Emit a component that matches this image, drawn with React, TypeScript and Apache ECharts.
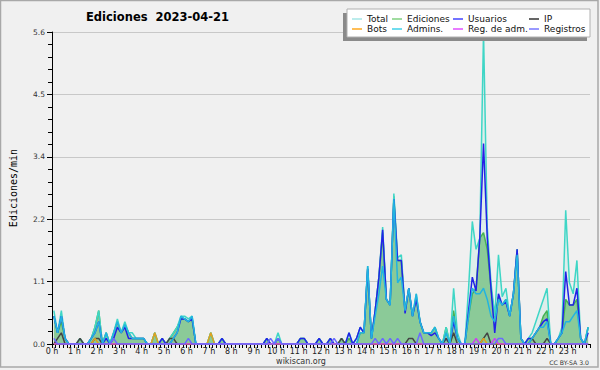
import React, { useEffect, useRef } from "react";
import * as echarts from "echarts";

// one value per 10-minute slot (6 per hour), edits/min
const total: number[] = [
  0.6, 0.2, 0.6, 0.1, 0, 0, // 0 h
  0, 0.1, 0, 0, 0.1, 0.3, // 1 h
  0.6, 0, 0.2, 0, 0.2, 0.45, // 2 h
  0.2, 0.4, 0.2, 0.2, 0.1, 0.1, // 3 h
  0.1, 0, 0, 0.2, 0, 0.1, // 4 h
  0, 0.1, 0.2, 0.3, 0.5, 0.5, // 5 h
  0.45, 0.5, 0, 0, 0, 0, // 6 h
  0.2, 0, 0, 0.1, 0, 0, // 7 h
  0, 0, 0, 0, 0, 0, // 8 h
  0, 0, 0, 0.1, 0, 0, // 9 h
  0.2, 0, 0, 0, 0, 0, // 10 h
  0.1, 0.1, 0, 0, 0, 0.1, // 11 h
  0, 0, 0.1, 0, 0, 0.1, // 12 h
  0, 0.2, 0, 0.1, 0.3, 0.2, // 13 h
  1.4, 0.1, 0.6, 1.2, 2.1, 0.8, // 14 h
  0.7, 2.7, 1.55, 1.6, 0.6, 1.0, // 15 h
  0.5, 0.9, 0.4, 0.2, 0.2, 0.2, // 16 h
  0.3, 0.1, 0, 0.3, 0, 1.0, // 17 h
  0.2, 0, 0, 1.0, 2.2, 1.7, // 18 h
  1.9, 5.6, 2.1, 1.1, 0.5, 1.6, // 19 h
  0.85, 1.0, 0.5, 0.9, 1.7, 0.1, // 20 h
  0, 0.1, 0.2, 0.4, 0.6, 0.8, // 21 h
  1.0, 0, 0, 0.1, 0.3, 2.4, // 22 h
  1.1, 0.9, 1.5, 0.1, 0, 0.3, // 23 h
];

const ediciones: number[] = [
  0.5, 0.2, 0.4, 0.1, 0, 0,
  0, 0.1, 0, 0, 0.1, 0.3,
  0.6, 0, 0.2, 0, 0.2, 0.4,
  0.2, 0.35, 0.2, 0.1, 0.1, 0.1,
  0.1, 0, 0, 0.2, 0, 0.1,
  0, 0.1, 0.2, 0.3, 0.45, 0.45,
  0.4, 0.45, 0, 0, 0, 0,
  0.2, 0, 0, 0.1, 0, 0,
  0, 0, 0, 0, 0, 0,
  0, 0, 0, 0.1, 0, 0,
  0.1, 0, 0, 0, 0, 0,
  0.1, 0.1, 0, 0, 0, 0.1,
  0, 0, 0.1, 0, 0, 0.1,
  0, 0.1, 0, 0, 0.2, 0.2,
  1.35, 0.1, 0.6, 1.2, 2.0, 0.8,
  0.7, 2.65, 1.5, 1.5, 0.6, 1.0,
  0.5, 0.85, 0.4, 0.2, 0.2, 0.2,
  0.3, 0.1, 0, 0.3, 0, 0.6,
  0.1, 0, 0, 0.5, 0.9, 1.0,
  1.9, 2.0, 1.7, 1.0, 0.5, 0.85,
  0.7, 0.8, 0.5, 0.9, 1.7, 0.1,
  0, 0.1, 0.1, 0.2, 0.3, 0.5,
  0.6, 0, 0, 0.1, 0.2, 0.8,
  0.7, 0.7, 0.8, 0.1, 0, 0.3,
];

const usuarios: number[] = [
  0.5, 0.2, 0.5, 0.1, 0, 0,
  0, 0, 0, 0, 0.1, 0.2,
  0.4, 0, 0.1, 0, 0.1, 0.3,
  0.2, 0.3, 0.1, 0.1, 0.1, 0.1,
  0.1, 0, 0, 0, 0, 0.1,
  0, 0, 0.1, 0.2, 0.45, 0.45,
  0.4, 0.45, 0, 0, 0, 0,
  0, 0, 0, 0.1, 0, 0,
  0, 0, 0, 0, 0, 0,
  0, 0, 0, 0.1, 0, 0,
  0.1, 0, 0, 0, 0, 0,
  0.1, 0.1, 0, 0, 0, 0.1,
  0, 0, 0.1, 0, 0, 0,
  0, 0.2, 0, 0.1, 0.3, 0.2,
  1.35, 0.1, 0.6, 1.2, 2.05, 0.8,
  0.7, 2.6, 1.5, 1.5, 0.55, 1.0,
  0.5, 0.8, 0.4, 0.2, 0.2, 0.15,
  0.2, 0.1, 0, 0.1, 0, 0.4,
  0.1, 0, 0, 0.6, 1.2, 0.95,
  1.9, 3.6, 1.9, 1.0, 0.2, 0.9,
  0.7, 0.75, 0.5, 0.9, 1.7, 0.1,
  0, 0.1, 0.1, 0.2, 0.3, 0.4,
  0.45, 0, 0, 0.1, 0.2, 1.3,
  0.7, 0.7, 1.0, 0.1, 0, 0.2,
];

const ip: number[] = [
  0, 0.1, 0.2, 0, 0, 0,
  0, 0.1, 0, 0, 0, 0.1,
  0.1, 0, 0, 0, 0, 0,
  0, 0, 0, 0, 0, 0,
  0, 0, 0, 0, 0, 0,
  0, 0.1, 0.1, 0, 0, 0,
  0, 0, 0, 0, 0, 0,
  0, 0, 0, 0, 0, 0,
  0, 0, 0, 0, 0, 0,
  0, 0, 0, 0, 0, 0,
  0, 0, 0, 0, 0, 0,
  0, 0, 0, 0, 0, 0,
  0, 0, 0, 0, 0, 0.1,
  0, 0, 0, 0, 0, 0,
  0, 0, 0, 0, 0, 0,
  0, 0, 0, 0, 0, 0.1,
  0.1, 0, 0, 0, 0, 0,
  0, 0, 0, 0.1, 0, 0.2,
  0, 0, 0, 0, 0, 0,
  0, 0.1, 0.2, 0, 0, 0,
  0, 0, 0, 0, 0, 0,
  0, 0, 0.1, 0, 0, 0,
  0.1, 0, 0, 0, 0, 0,
  0, 0, 0, 0, 0, 0,
];

const bots: number[] = [
  0, 0, 0, 0, 0, 0,
  0, 0, 0, 0, 0, 0.1,
  0, 0, 0, 0, 0, 0,
  0, 0, 0, 0, 0, 0,
  0, 0, 0, 0.2, 0, 0,
  0, 0, 0, 0, 0, 0,
  0, 0, 0, 0, 0, 0,
  0.2, 0, 0, 0, 0, 0,
  0, 0, 0, 0, 0, 0,
  0, 0, 0, 0, 0, 0,
  0, 0, 0, 0, 0, 0,
  0, 0, 0, 0, 0, 0,
  0, 0, 0, 0, 0, 0,
  0, 0, 0, 0, 0, 0,
  0, 0, 0, 0, 0, 0,
  0, 0, 0, 0, 0, 0,
  0, 0, 0, 0, 0, 0,
  0, 0, 0, 0, 0, 0,
  0, 0, 0, 0, 0, 0,
  0, 0.1, 0, 0, 0, 0,
  0, 0, 0, 0, 0, 0,
  0, 0, 0, 0, 0, 0,
  0, 0, 0, 0, 0, 0,
  0, 0, 0, 0, 0, 0,
];

const admins: number[] = [
  0.5, 0.2, 0.5, 0.1, 0, 0,
  0, 0, 0, 0, 0.1, 0.2,
  0.4, 0, 0.2, 0, 0.2, 0.4,
  0.2, 0.35, 0.2, 0.1, 0.1, 0.1,
  0.1, 0, 0, 0, 0, 0,
  0, 0, 0.1, 0.2, 0.5, 0.45,
  0.4, 0.5, 0, 0, 0, 0,
  0, 0, 0, 0, 0, 0,
  0, 0, 0, 0, 0, 0,
  0, 0, 0, 0, 0, 0,
  0.1, 0, 0, 0, 0, 0,
  0, 0, 0, 0, 0, 0,
  0, 0, 0, 0, 0, 0,
  0, 0, 0, 0, 0.2, 0.2,
  1.4, 0.1, 0.5, 0.9, 1.4, 0.8,
  0.7, 2.6, 1.1, 1.2, 0.6, 1.0,
  0.5, 0.9, 0.4, 0.2, 0.2, 0.2,
  0.3, 0.1, 0, 0.2, 0, 0.5,
  0.1, 0, 0, 0.5, 1.0, 0.9,
  0.9, 1.0, 0.8, 0.5, 0.4, 0.8,
  0.7, 0.8, 0.5, 0.9, 1.6, 0.1,
  0, 0, 0.1, 0.2, 0.3, 0.3,
  0.4, 0, 0, 0.1, 0.2, 0.4,
  0.4, 0.5, 0.6, 0.1, 0, 0.3,
];

const regAdm: number[] = [
  0, 0, 0, 0, 0, 0,
  0, 0, 0, 0, 0, 0,
  0, 0, 0, 0, 0, 0,
  0, 0, 0, 0, 0, 0,
  0, 0, 0, 0, 0, 0,
  0, 0, 0, 0, 0, 0,
  0, 0, 0, 0, 0, 0,
  0, 0, 0, 0, 0, 0,
  0, 0, 0, 0, 0, 0,
  0, 0, 0, 0, 0, 0,
  0, 0, 0, 0, 0, 0,
  0, 0, 0, 0, 0, 0,
  0, 0, 0, 0, 0, 0,
  0, 0, 0, 0, 0, 0,
  0, 0, 0, 0, 0, 0,
  0, 0, 0, 0, 0, 0,
  0, 0, 0, 0, 0, 0,
  0, 0, 0, 0, 0, 0,
  0, 0, 0, 0, 0, 0.1,
  0, 0, 0, 0, 0.1, 0,
  0, 0, 0, 0, 0, 0,
  0, 0, 0, 0, 0, 0,
  0, 0, 0, 0, 0, 0,
  0, 0, 0, 0, 0, 0,
];

const registros: number[] = [
  0.1, 0, 0, 0, 0, 0,
  0, 0, 0, 0, 0, 0,
  0, 0, 0, 0, 0.1, 0,
  0, 0, 0, 0, 0, 0,
  0, 0, 0, 0, 0, 0,
  0, 0, 0, 0, 0, 0,
  0.1, 0, 0, 0, 0, 0,
  0, 0, 0, 0, 0, 0,
  0, 0, 0, 0, 0, 0,
  0, 0, 0, 0, 0.1, 0,
  0.1, 0, 0, 0, 0, 0,
  0, 0, 0, 0, 0, 0,
  0, 0, 0, 0.1, 0, 0,
  0, 0, 0, 0, 0, 0,
  0, 0, 0.1, 0, 0.1, 0,
  0.1, 0, 0.1, 0, 0, 0,
  0, 0, 0.2, 0, 0, 0,
  0, 0, 0, 0, 0, 0,
  0, 0, 0, 0, 0, 0,
  0, 0, 0, 0, 0, 0.1,
  0.1, 0, 0, 0, 0, 0,
  0, 0, 0, 0, 0, 0,
  0, 0, 0, 0, 0, 0,
  0, 0, 0, 0, 0, 0,
];

const seriesNames = ["Total", "Ediciones", "Usuarios", "IP", "Bots", "Admins.", "Reg. de adm.", "Registros"];
const seriesColors = ["#3fd6c6", "#48b048", "#2222e6", "#444444", "#e0a020", "#22b4e0", "#cc44ee", "#6a6aff"];
const legendColors = ["#a6e6e6", "#80d080", "#4444ff", "#333333", "#ffa820", "#40d0e8", "#e050ff", "#7777ff"];
const yTicks = { min: 0, max: 5.6, interval: 1.12 };
const hoursInDay = 24;
const slotsPerHour = 6;

const FONT = "DejaVu Sans";

export default function App() {
  const ref = useRef<HTMLDivElement>(null);

  useEffect(() => {
    document.body.style.margin = "0";
    if (!ref.current) return;
    const chart = echarts.init(ref.current, undefined, { renderer: "svg" });

    const toData = (arr: number[]) => arr.map((v, i) => [i + 0.5, v]);
    const valuesByName: Record<string, number[]> = {
      Total: total,
      Ediciones: ediciones,
      Usuarios: usuarios,
      IP: ip,
      Bots: bots,
      "Admins.": admins,
      "Reg. de adm.": regAdm,
      Registros: registros,
    };
    // draw order: Ediciones area, then Total (translucent), then lines
    const drawOrder = ["Ediciones", "Total", "Usuarios", "IP", "Bots", "Admins.", "Reg. de adm.", "Registros"];
    const series: any[] = drawOrder.map((name, k) => {
      const idx = seriesNames.indexOf(name);
      const s: any = {
        name,
        type: "line",
        data: toData(valuesByName[name]),
        color: seriesColors[idx],
        showSymbol: false,
        symbol: "none",
        lineStyle: { width: 1.5, color: seriesColors[idx] },
        z: 2 + k * 0.01,
      };
      if (name === "Ediciones") s.areaStyle = { color: "#94c994", opacity: 1 };
      if (name === "Total") s.areaStyle = { color: "rgba(64,214,198,0.14)" };
      return s;
    });

    const legendPos = [
      [352, 14], [392, 14], [453, 14], [529, 14],
      [352, 24], [392, 24], [453, 24], [529, 24],
    ];
    const legendOrder = ["Total", "Ediciones", "Usuarios", "IP", "Bots", "Admins.", "Reg. de adm.", "Registros"];
    const legends = legendOrder.map((name, k) => ({
      show: true,
      data: [{ name, itemStyle: { color: legendColors[seriesNames.indexOf(name)] } }],
      left: legendPos[k][0],
      top: legendPos[k][1],
      padding: 0,
      icon: "rect",
      itemWidth: 10,
      itemHeight: 1.5,
      itemGap: 0,
      selectedMode: false,
      z: 6,
      textStyle: { fontFamily: FONT, fontSize: 9, color: "#111", lineHeight: 10 },
    }));

    chart.setOption({
      animation: false,
      backgroundColor: "#f0f0f0",
      title: {
        text: "Ediciones  2023-04-21",
        left: 86,
        top: 11,
        padding: 0,
        textStyle: { fontFamily: FONT, fontWeight: "bold", fontSize: 11.5, color: "#000" },
      },
      legend: legends,
      grid: { left: 46, right: 10, top: 32, bottom: 26, containLabel: false },
      xAxis: {
        type: "value",
        min: 0,
        max: hoursInDay * slotsPerHour,
        interval: slotsPerHour,
        axisLine: { show: true, onZero: false, lineStyle: { color: "#000", width: 1 } },
        axisTick: { show: true, length: 4, lineStyle: { color: "#000" } },
        minorTick: { show: true, splitNumber: 6, length: 4, lineStyle: { color: "#000" } },
        splitLine: { show: false },
        axisLabel: {
          fontFamily: FONT,
          fontSize: 8,
          color: "#222",
          margin: 3,
          showMaxLabel: false,
          formatter: (v: number) => (v >= hoursInDay * slotsPerHour ? "" : `${v / slotsPerHour} h`),
        },
      },
      yAxis: {
        type: "value",
        min: yTicks.min,
        max: yTicks.max,
        interval: yTicks.interval,
        name: "Ediciones/min",
        nameLocation: "middle",
        nameGap: 34,
        nameRotate: 90,
        nameTextStyle: { fontFamily: "DejaVu Sans Mono", fontSize: 10, color: "#000" },
        axisLine: { show: true, lineStyle: { color: "#000", width: 1 } },
        axisTick: { show: true, length: 5, lineStyle: { color: "#000" } },
        minorTick: { show: true, splitNumber: 5, length: 4, lineStyle: { color: "#000" } },
        splitLine: { show: true, lineStyle: { color: "#c8c8c8", width: 1 } },
        axisLabel: {
          fontFamily: FONT,
          fontSize: 7.5,
          color: "#333",
          margin: 7,
          formatter: (v: number) => v.toFixed(1),
        },
      },
      series,
      graphic: [
        { type: "rect", z: 3, shape: { x: 343, y: 13, width: 244, height: 28 }, style: { fill: "#8a8a8a" } },
        { type: "rect", z: 3, shape: { x: 347, y: 9, width: 243, height: 28 }, style: { fill: "#ffffff", stroke: "#b0b0b0", lineWidth: 1 } },
        { type: "text", z: 5, x: 301, y: 361, style: { text: "wikiscan.org", font: `8px '${FONT}'`, fill: "#333", align: "center", verticalAlign: "middle" } },
        { type: "text", z: 5, x: 589, y: 362, style: { text: "CC BY-SA 3.0", font: `6.2px '${FONT}'`, fill: "#333", align: "right", verticalAlign: "middle" } },
        { type: "rect", z: 10, shape: { x: 0.5, y: 0.5, width: 597.5, height: 366.5 }, style: { fill: "none", stroke: "#a8a8a8", lineWidth: 1.5 } },
      ],
    });

    return () => chart.dispose();
  }, []);

  return <div ref={ref} style={{ width: 600, height: 370, position: "absolute", left: 0, top: 0 }} />;
}
